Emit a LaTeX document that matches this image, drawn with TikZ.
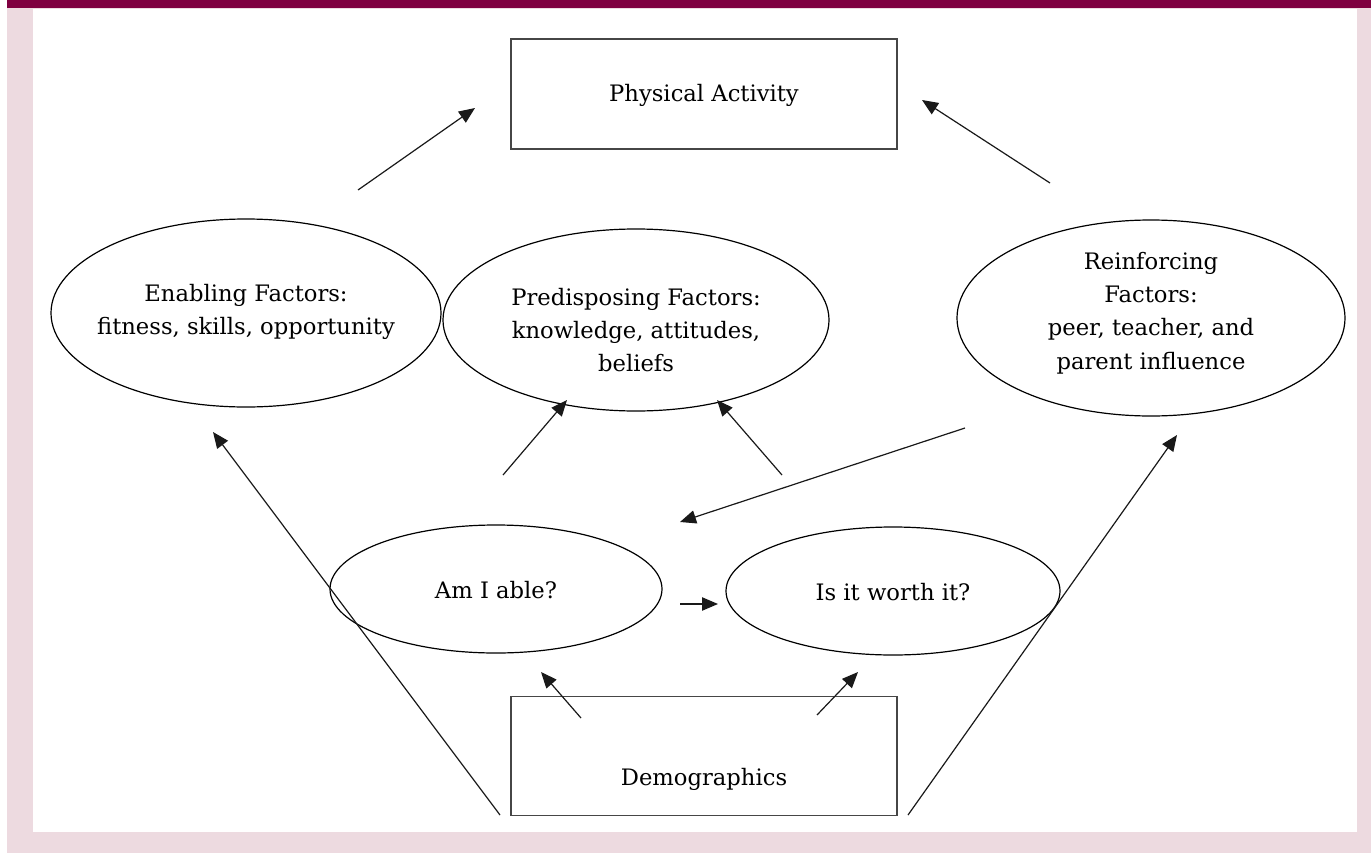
\documentclass[tikz,border=0pt]{standalone}
\usepackage{fontspec}
\setmainfont{DejaVu Serif}
\usetikzlibrary{shapes.geometric,arrows.meta}
\definecolor{maroon}{RGB}{127,0,64}
\definecolor{pinkframe}{RGB}{237,218,224}
\definecolor{boxline}{RGB}{70,70,70}
\tikzset{
  txt/.style={font=\fontsize{17}{25}\selectfont, align=center, inner sep=0pt},
  ell/.style={ellipse, draw=black, line width=0.9pt, inner sep=0pt, outer sep=0pt},
  rbox/.style={rectangle, draw=boxline, line width=1.2pt, inner sep=0pt, outer sep=0pt, fill=white},
  arr/.style={draw=black!90, line width=0.9pt, -{Triangle[length=12pt,width=10pt]}}
}
\begin{document}
\begin{tikzpicture}[x=0.75pt,y=-0.75pt]
\useasboundingbox (0,0) rectangle (1371,853);
% frame
\fill[pinkframe] (7,8) rectangle (1371,853);
\fill[white] (33,9) rectangle (1357,832);
\fill[maroon] (7,0) rectangle (1371,8);

% boxes
\node[rbox, minimum width={386*0.75pt}, minimum height={110*0.75pt}] (pa) at (704,94) {};
\node[txt] (patext) at (704,95) {Physical Activity};
\node[rbox, minimum width={386*0.75pt}, minimum height={119*0.75pt}] (demo) at (704,756) {};
\node[txt] (demotext) at (704,779) {Demographics};

% ellipses
\node[ell, minimum width={390*0.75pt}, minimum height={188*0.75pt}] (enab) at (246,313) {};
\node[txt] (enabtext) at (246,312) {Enabling Factors:\\fitness, skills, opportunity};
\node[ell, minimum width={386*0.75pt}, minimum height={182*0.75pt}] (pred) at (636,320) {};
\node[txt] (predtext) at (636,330) {Predisposing Factors:\\knowledge, attitudes,\\beliefs};
\node[ell, minimum width={388*0.75pt}, minimum height={196*0.75pt}] (reinf) at (1151,318) {};
\node[txt] (reinftext) at (1151,313) {Reinforcing\\Factors:\\peer, teacher, and\\parent influence};
\node[ell, minimum width={332*0.75pt}, minimum height={128*0.75pt}] (able) at (496,589) {};
\node[txt] (abletext) at (496,590) {Am I able?};
\node[ell, minimum width={334*0.75pt}, minimum height={128*0.75pt}] (worth) at (893,591) {};
\node[txt] (worthtext) at (893,592) {Is it worth it?};

% connectors
\draw[arr] ([shift={(112,-123)}]enab.center) -- ([shift={(-229,14)}]pa.center);
\draw[arr] ([shift={(-101,-135)}]reinf.center) -- ([shift={(218,6)}]pa.center);
\draw[arr] ([shift={(-204,59)}]demo.center) -- ([shift={(-33,119)}]enab.center);
\draw[arr] ([shift={(204,59)}]demo.center) -- ([shift={(26,117)}]reinf.center);
\draw[arr] ([shift={(7,-114)}]able.center) -- ([shift={(-69,80)}]pred.center);
\draw[arr] ([shift={(-111,-116)}]worth.center) -- ([shift={(81,80)}]pred.center);
\draw[arr] ([shift={(-186,110)}]reinf.center) -- ([shift={(184,-67)}]able.center);
\draw[arr] ([shift={(184,15)}]able.center) -- ([shift={(-175,13)}]worth.center);
\draw[arr] ([shift={(-123,-38)}]demo.center) -- ([shift={(45,83)}]able.center);
\draw[arr] ([shift={(113,-41)}]demo.center) -- ([shift={(-35,81)}]worth.center);
\end{tikzpicture}
\end{document}
